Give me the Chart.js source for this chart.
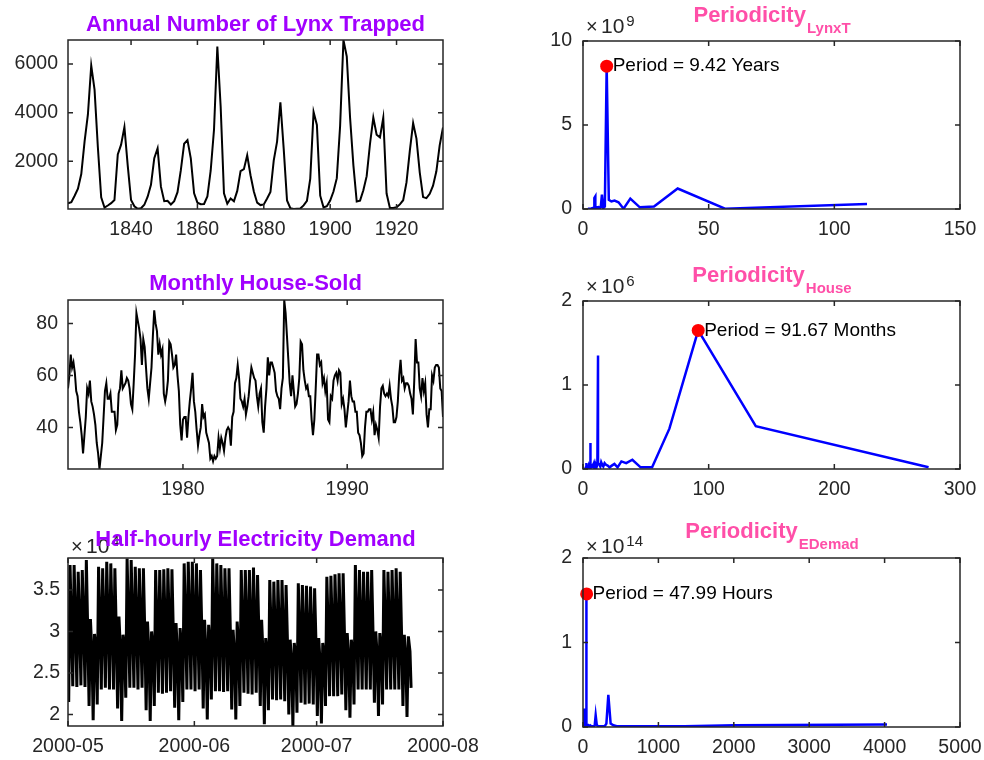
<!DOCTYPE html>
<html lang="en">
<head>
<meta charset="UTF-8">
<title>Periodicity of three series</title>
<script src="https://cdn.jsdelivr.net/npm/chart.js@4.4.0/dist/chart.umd.min.js"></script>
<style>
  body { margin: 0; background: #fff; }
  #fig { position: relative; width: 984px; height: 760px; overflow: hidden; }
  #fig canvas { position: absolute; left: 0; top: 0; }
</style>
</head>
<body>
<div id="fig">
  <canvas id="lynx" width="984" height="760"></canvas>
  <canvas id="house" width="984" height="760"></canvas>
  <canvas id="elec" width="984" height="760"></canvas>
  <canvas id="plynx" width="984" height="760"></canvas>
  <canvas id="phouse" width="984" height="760"></canvas>
  <canvas id="pelec" width="984" height="760"></canvas>
</div>
<script>
// ---- data ----
var lynxStart = 1821
var lynxCount = [269, 321, 585, 871, 1475, 2821, 3928, 5943, 4950, 2577,
  523, 98, 184, 279, 409, 2285, 2685, 3409, 1824, 409,
  151, 45, 68, 213, 546, 1033, 2129, 2536, 957, 361,
  377, 225, 360, 731, 1638, 2725, 2871, 2119, 684, 299,
  236, 245, 552, 1623, 3311, 6721, 4254, 687, 255, 473,
  358, 784, 1594, 1676, 2251, 1426, 756, 299, 201, 229,
  469, 736, 2042, 2811, 4431, 2511, 389, 73, 39, 49,
  59, 188, 377, 1292, 4031, 3495, 587, 105, 153, 387,
  758, 1307, 3465, 6991, 6313, 3794, 1836, 345, 382, 808,
  1388, 2713, 3800, 3091, 2985, 3790, 674, 81, 80, 108,
  229, 399, 1132, 2432, 3574, 2935, 1537, 529, 485, 662,
  1000, 1590, 2657, 3396]

var houseStart = 1973
var houseSold = [55, 60, 68, 63, 65, 61, 54, 52, 46, 42, 37, 30,
  37, 44, 55, 53, 58, 50, 48, 45, 41, 34, 30, 24,
  29, 34, 44, 54, 57, 51, 51, 53, 46, 46, 46, 39,
  41, 53, 55, 62, 55, 56, 57, 59, 58, 55, 49, 47,
  57, 68, 84, 81, 78, 74, 64, 74, 71, 63, 55, 51,
  57, 63, 75, 85, 80, 77, 68, 72, 68, 70, 53, 50,
  53, 58, 73, 72, 68, 63, 64, 68, 60, 54, 41, 35,
  43, 44, 44, 36, 44, 50, 55, 61, 50, 46, 39, 33,
  37, 40, 49, 44, 45, 38, 36, 34, 28, 29, 27, 29,
  28, 29, 36, 32, 36, 34, 31, 36, 39, 40, 39, 33,
  44, 46, 57, 59, 64, 59, 51, 50, 48, 51, 45, 48,
  52, 58, 63, 61, 59, 58, 52, 48, 53, 55, 42, 38,
  48, 55, 67, 60, 65, 65, 63, 61, 54, 52, 51, 47,
  55, 59, 89, 84, 75, 66, 57, 52, 60, 54, 48, 49,
  53, 59, 73, 72, 62, 58, 55, 56, 52, 52, 43, 37,
  43, 55, 68, 68, 64, 65, 57, 59, 54, 57, 43, 42,
  52, 51, 58, 60, 61, 58, 62, 61, 49, 51, 47, 40,
  45, 50, 58, 52, 50, 50, 46, 46, 38, 37, 34, 29,
  30, 40, 46, 46, 47, 47, 43, 46, 37, 41, 39, 36,
  48, 55, 56, 53, 52, 53, 52, 56, 51, 48, 42, 42,
  44, 50, 60, 66, 58, 59, 55, 57, 57, 56, 53, 51,
  45, 58, 74, 65, 65, 55, 52, 59, 54, 57, 45, 40,
  47, 47, 60, 58, 63, 64, 64, 63, 55, 54, 44]

// electricity demand (x10^4) from 2000-05-01: night low, midday high, late evening level per day
var elecHigh = [3.80, 3.80, 3.72, 3.74, 3.86, 3.15, 2.97,
  3.78, 3.76, 3.84, 3.82, 3.76, 3.18, 2.96,
  3.88, 3.86, 3.78, 3.76, 3.76, 3.12, 3.00,
  3.74, 3.74, 3.75, 3.76, 3.75, 3.10, 3.04,
  3.82, 3.84, 3.84, 3.82, 3.74, 3.14, 3.08,
  3.88, 3.82, 3.80, 3.76, 3.76, 3.02, 3.12,
  3.74, 3.74, 3.74, 3.77, 3.68, 3.14, 2.92,
  3.62, 3.60, 3.62, 3.62, 3.56, 2.90, 2.86,
  3.58, 3.56, 3.55, 3.54, 3.52, 2.92, 2.86,
  3.66, 3.67, 3.69, 3.70, 3.70, 2.98, 2.90,
  3.80, 3.74, 3.72, 3.72, 3.74, 3.00, 2.98,
  3.74, 3.72, 3.74, 3.76, 3.72, 2.96, 2.94]
var elecEve = [2.95, 2.98, 2.96, 2.97, 2.85, 2.70, 2.78,
  2.96, 2.95, 2.98, 2.97, 2.86, 2.72, 2.80,
  2.98, 2.97, 2.95, 2.96, 2.84, 2.70, 2.78,
  2.94, 2.93, 2.94, 2.95, 2.84, 2.68, 2.78,
  2.96, 2.97, 2.96, 2.95, 2.85, 2.70, 2.80,
  2.97, 2.95, 2.95, 2.94, 2.84, 2.68, 2.78,
  2.92, 2.92, 2.93, 2.94, 2.82, 2.66, 2.74,
  2.86, 2.85, 2.86, 2.86, 2.76, 2.60, 2.70,
  2.84, 2.83, 2.83, 2.82, 2.74, 2.58, 2.68,
  2.90, 2.90, 2.91, 2.92, 2.80, 2.64, 2.74,
  2.94, 2.93, 2.92, 2.92, 2.82, 2.66, 2.78,
  2.93, 2.92, 2.93, 2.94, 2.82, 2.66, 2.76]
var elecLow = [2.15, 2.34, 2.33, 2.35, 2.33, 2.10, 1.93,
  2.12, 2.30, 2.32, 2.30, 2.30, 2.07, 1.92,
  2.20, 2.32, 2.32, 2.30, 2.32, 2.05, 1.92,
  2.10, 2.26, 2.25, 2.26, 2.28, 2.08, 1.93,
  2.15, 2.30, 2.30, 2.28, 2.30, 2.07, 1.94,
  2.18, 2.28, 2.28, 2.27, 2.28, 2.06, 1.94,
  2.10, 2.26, 2.25, 2.24, 2.26, 2.10, 1.88,
  2.05, 2.18, 2.17, 2.18, 2.16, 2.00, 1.86,
  2.02, 2.14, 2.12, 2.13, 2.12, 1.98, 1.89,
  2.10, 2.22, 2.22, 2.22, 2.24, 2.05, 1.96,
  2.12, 2.30, 2.30, 2.30, 2.30, 2.14, 1.98,
  2.12, 2.30, 2.30, 2.30, 2.30, 2.10, 1.97,
  2.32]
var elecTickDays = [0, 31, 61, 92]
var elecTickLabels = ['2000-05', '2000-06', '2000-07', '2000-08']

// periodograms
var lynxPeriod = [113, 56.5, 37.67, 28.25, 22.6, 18.83, 16.14, 14.13, 12.56, 11.3,
  10.27, 9.42, 8.69, 8.07, 7.53, 7.06, 6.65, 6.28, 5.95, 5.65,
  5.38, 5.14, 4.91, 4.71, 4.52, 4.35, 4.19, 4.04, 3.9, 3.77,
  3.53, 3.23, 2.9, 2.57, 2.26, 2.02]
var lynxPower = [0.30, 0.02, 1.22, 0.15, 0.10, 0.62, 0.02, 0.40, 0.50, 0.45,
  0.55, 8.50, 0.15, 0.05, 0.85, 0.10, 0.05, 0.10, 0.05, 0.10,
  0.10, 0.05, 0.75, 0.70, 0.10, 0.05, 0.03, 0.05, 0.02, 0.04,
  0.02, 0.03, 0.01, 0.02, 0.01, 0.0]

var housePeriod = [275, 137.5, 91.67, 68.75, 55, 45.83, 39.29, 34.38, 30.56, 27.5,
  25, 22.92, 21.15, 19.64, 18.33, 17.19, 16.18, 15.28, 14.47, 13.75,
  13.1, 12.5, 11.96, 11.46, 11, 10.58, 10.19, 9.82, 9.48, 9.17,
  8.59, 8.09, 7.64, 7.24, 6.88, 6.55, 6.25, 6.11, 5.98, 5.73,
  5.5, 5, 4.58, 4.23, 3.93, 3.67, 3.44, 3.24, 3.06, 2.89,
  2.75, 2.62, 2.5, 2.29, 2.12, 2]
var housePower = [0.02, 0.51, 1.65, 0.48, 0.02, 0.02, 0.11, 0.07, 0.09, 0.02,
  0.06, 0.04, 0.02, 0.04, 0.05, 0.07, 0.03, 0.05, 0.08, 0.03,
  0.05, 0.06, 1.35, 0.08, 0.03, 0.02, 0.04, 0.02, 0.05, 0.03,
  0.02, 0.04, 0.02, 0.03, 0.02, 0.04, 0.05, 0.31, 0.04, 0.02,
  0.03, 0.02, 0.04, 0.02, 0.03, 0.02, 0.02, 0.05, 0.02, 0.03,
  0.07, 0.02, 0.03, 0.02, 0.01, 0.01]

var elecPeriod = [4032, 2016, 1344, 1008, 806.4, 672, 576, 504, 448, 403.2,
  366.5, 336, 310.2, 288, 268.8, 252, 224, 201.6, 183.3, 168,
  155.1, 144, 126, 112, 96, 84, 72, 63, 56, 50.4,
  47.99, 46.3, 42, 36, 32, 28, 24, 21, 18, 14,
  12, 8, 6, 4, 2]
var elecPower = [0.03, 0.02, 0.01, 0.01, 0.01, 0.01, 0.01, 0.01, 0.01, 0.02,
  0.04, 0.38, 0.04, 0.01, 0.01, 0.01, 0.01, 0.01, 0.02, 0.14,
  0.02, 0.01, 0.01, 0.01, 0.02, 0.01, 0.02, 0.01, 0.02, 0.03,
  1.575, 0.03, 0.01, 0.01, 0.02, 0.01, 0.22, 0.01, 0.02, 0.01,
  0.03, 0.01, 0.01, 0.0, 0.0]

// ---- drawing ----
var FONT = '"Liberation Sans", Arial, Helvetica, sans-serif'
var INK = '#262626'
Chart.defaults.font.family = FONT

function xy(xs, ys) { return ys.map(function (v, i) { return { x: xs[i], y: v } }) }

function peakOf(xs, ys) {
  var k = 0
  for (var i = 1; i < ys.length; i++) if (ys[i] > ys[k]) k = i
  return { x: xs[k], y: ys[k] }
}

// matlab style box, inward ticks, title, exponent and peak label
function deco(cfg) {
  return {
    id: 'deco',
    afterDraw: function (chart) {
      var ctx = chart.ctx, a = chart.chartArea, sx = chart.scales.x, sy = chart.scales.y
      ctx.save()
      ctx.strokeStyle = INK
      ctx.lineWidth = 1.5
      ctx.strokeRect(a.left, a.top, a.right - a.left, a.bottom - a.top)
      ctx.beginPath()
      sx.ticks.forEach(function (t) {
        var p = sx.getPixelForValue(t.value)
        ctx.moveTo(p, a.bottom); ctx.lineTo(p, a.bottom - 5)
        ctx.moveTo(p, a.top); ctx.lineTo(p, a.top + 5)
      })
      sy.ticks.forEach(function (t) {
        var p = sy.getPixelForValue(t.value)
        ctx.moveTo(a.left, p); ctx.lineTo(a.left + 5, p)
        ctx.moveTo(a.right, p); ctx.lineTo(a.right - 5, p)
      })
      ctx.stroke()

      if (cfg.exp) {
        ctx.fillStyle = INK
        ctx.textBaseline = 'alphabetic'
        ctx.textAlign = 'left'
        var ex = a.left + 3, ey = a.top - cfg.expGap
        ctx.font = '20px ' + FONT
        ctx.fillText('\u00d7', ex, ey)
        ctx.font = '21px ' + FONT
        ctx.fillText('10', ex + 15, ey)
        var w = ctx.measureText('10').width
        ctx.font = '15px ' + FONT
        ctx.fillText(cfg.exp, ex + 15 + w + 2, ey - 7)
      }

      if (cfg.peak) {
        var px = sx.getPixelForValue(cfg.peak.x), py = sy.getPixelForValue(cfg.peak.y)
        ctx.fillStyle = '#000'
        ctx.font = '19px ' + FONT
        ctx.textAlign = 'left'
        ctx.textBaseline = 'middle'
        ctx.fillText('Period = ' + cfg.peak.x.toFixed(2) + ' ' + cfg.unit, px + 6, py)
      }

      var cx = (a.left + a.right) / 2
      ctx.textBaseline = 'alphabetic'
      ctx.textAlign = 'left'
      ctx.fillStyle = cfg.color
      ctx.font = 'bold 22px ' + FONT
      var w1 = ctx.measureText(cfg.title).width, w2 = 0
      if (cfg.sub) {
        ctx.font = 'bold 15px ' + FONT
        w2 = ctx.measureText(cfg.sub).width
      }
      var tx = cx - (w1 + w2) / 2
      ctx.font = 'bold 22px ' + FONT
      ctx.fillText(cfg.title, tx, cfg.ty)
      if (cfg.sub) {
        ctx.font = 'bold 15px ' + FONT
        ctx.fillText(cfg.sub, tx + w1 + 1, cfg.ty + 11)
      }
      ctx.restore()
    }
  }
}

function axis(min, max, ticks, pad, fmt) {
  return {
    type: 'linear', min: min, max: max,
    grid: { display: false, drawTicks: false },
    border: { display: false },
    afterBuildTicks: function (s) { s.ticks = ticks.map(function (v) { return { value: v } }) },
    ticks: {
      color: INK, padding: pad, autoSkip: false, maxRotation: 0,
      font: { size: 19.5 },
      callback: fmt || function (v) { return String(v) }
    }
  }
}

function panel(id, box, datasets, xa, ya, cfg) {
  xa.afterFit = function (s) { s.height = 40; s.paddingLeft = 0; s.paddingRight = 0 }
  ya.afterFit = function (s) { s.width = 60; s.paddingTop = 0; s.paddingBottom = 0 }
  return new Chart(document.getElementById(id), {
    type: 'line',
    data: { datasets: datasets },
    options: {
      responsive: false, animation: false, events: [],
      layout: { autoPadding: false, padding: { left: box[0] - 60, top: box[1], right: 984 - box[2], bottom: 760 - box[3] - 40 } },
      plugins: { legend: { display: false }, tooltip: { enabled: false } },
      scales: { x: xa, y: ya }
    },
    plugins: [deco(cfg)]
  })
}

function seriesLine(pts, color, width) {
  return { data: pts, borderColor: color, borderWidth: width, pointRadius: 0, tension: 0, fill: false }
}

function marker(p) {
  return { data: [p], showLine: false, pointRadius: 6.5, pointBackgroundColor: '#ff0000',
    pointBorderColor: '#ff0000', pointBorderWidth: 0, clip: false }
}

var PURPLE = '#a100ff', PINK = '#ff4fa8', BLUE = '#0000ff'

// left column: the series
var lynxPts = lynxCount.map(function (v, i) { return { x: lynxStart + i, y: v } })
panel('lynx', [68, 40, 443, 209], [seriesLine(lynxPts, '#000', 2)],
  axis(1821, 1934, [1840, 1860, 1880, 1900, 1920], 9),
  axis(39, 6991, [2000, 4000, 6000], 10),
  { title: 'Annual Number of Lynx Trapped', color: PURPLE, ty: 31 })

var housePts = houseSold.map(function (v, i) { return { x: houseStart + i / 12, y: v } })
panel('house', [68, 300, 443, 469], [seriesLine(housePts, '#000', 2)],
  axis(1973, 1973 + (houseSold.length - 1) / 12, [1980, 1990], 9),
  axis(24, 89, [40, 60, 80], 10),
  { title: 'Monthly House-Sold', color: PURPLE, ty: 290 })

var elecPts = []
elecHigh.forEach(function (h, d) {
  elecPts.push({ x: d + 0.17, y: elecLow[d] })
  elecPts.push({ x: d + 0.5, y: h })
  elecPts.push({ x: d + 0.9, y: elecEve[d] })
})
elecPts.push({ x: elecHigh.length + 0.17, y: elecLow[elecHigh.length] })
panel('elec', [68, 558, 443, 726], [seriesLine(elecPts, '#000', 3)],
  axis(0, 92, elecTickDays, 9, function (v, i) { return elecTickLabels[i] }),
  axis(1.86, 3.885, [2, 2.5, 3, 3.5], 8),
  { title: 'Half-hourly Electricity Demand', color: PURPLE, ty: 546, exp: '4', expGap: 5 })

// right column: periodograms
var pk1 = peakOf(lynxPeriod, lynxPower)
panel('plynx', [583, 41, 960, 209], [marker(pk1), seriesLine(xy(lynxPeriod, lynxPower), BLUE, 2.5)],
  axis(0, 150, [0, 50, 100, 150], 9),
  axis(0, 10, [0, 5, 10], 11),
  { title: 'Periodicity', sub: 'LynxT', color: PINK, ty: 22, exp: '9', expGap: 8, peak: pk1, unit: 'Years' })

var pk2 = peakOf(housePeriod, housePower)
panel('phouse', [583, 301, 960, 469], [marker(pk2), seriesLine(xy(housePeriod, housePower), BLUE, 2.5)],
  axis(0, 300, [0, 100, 200, 300], 9),
  axis(0, 2, [0, 1, 2], 11),
  { title: 'Periodicity', sub: 'House', color: PINK, ty: 282, exp: '6', expGap: 8, peak: pk2, unit: 'Months' })

var pk3 = peakOf(elecPeriod, elecPower)
panel('pelec', [583, 558, 960, 727], [marker(pk3), seriesLine(xy(elecPeriod, elecPower), BLUE, 2.5)],
  axis(0, 5000, [0, 1000, 2000, 3000, 4000, 5000], 9),
  axis(0, 2, [0, 1, 2], 11),
  { title: 'Periodicity', sub: 'EDemad', color: PINK, ty: 538, exp: '14', expGap: 5, peak: pk3, unit: 'Hours' })
</script>
</body>
</html>
